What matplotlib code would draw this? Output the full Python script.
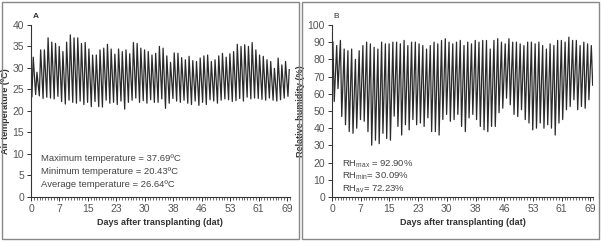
import numpy as np
import matplotlib.pyplot as plt
from matplotlib.patches import Rectangle

# daily extremes (one value per day, day 0..69)
temp_max = [32.5, 29.0, 34.2, 34.2, 37.0, 36.0, 35.7, 35.0, 33.8, 36.0,
            37.69, 37.0, 37.0, 35.7, 35.9, 34.4, 33.0, 33.0, 34.2, 34.6,
            35.5, 34.4, 33.2, 34.4, 33.8, 34.2, 33.3, 35.9, 35.7, 34.6,
            34.2, 33.8, 33.0, 33.4, 35.0, 34.6, 32.8, 31.3, 33.5, 33.4,
            32.4, 31.9, 32.7, 31.7, 31.5, 32.3, 32.8, 33.0, 31.5, 31.9,
            32.8, 33.4, 32.5, 33.3, 33.8, 35.5, 35.0, 35.4, 35.0, 35.9,
            34.2, 33.0, 32.7, 31.9, 31.5, 29.9, 32.3, 30.7, 31.5, 29.6]
temp_min = [23.3, 23.8, 23.5, 22.9, 23.2, 23.0, 22.8, 23.4, 22.2, 21.6,
            22.5, 22.0, 21.8, 22.3, 21.5, 22.0, 21.0, 22.2, 21.0, 20.9,
            22.5, 21.8, 22.0, 21.5, 22.3, 20.43, 22.0, 22.5, 23.0, 22.0,
            22.4, 21.8, 22.6, 22.0, 22.0, 22.8, 20.6, 21.8, 22.9, 22.3,
            22.0, 22.5, 21.8, 21.5, 22.3, 21.3, 22.0, 21.5, 22.6, 22.3,
            21.8, 22.5, 22.8, 22.6, 22.2, 22.4, 22.9, 22.3, 23.2, 22.8,
            23.0, 22.9, 22.7, 22.5, 23.0, 22.5, 22.3, 22.6, 23.0, 23.4]
rh_max = [90, 88, 91, 86, 85, 86, 80, 85, 88, 90,
          89, 87, 86, 90, 89, 89, 90, 90, 89, 91,
          88, 90, 90, 89, 88, 86, 88, 90, 89, 91,
          92, 90, 89, 90, 91, 88, 90, 89, 91, 90,
          91, 91, 86, 91, 92, 90, 89, 92, 90, 90,
          89, 88, 90, 90, 89, 90, 88, 86, 89, 88,
          91, 91, 90, 92.9, 91, 91, 88, 90, 89, 88]
rh_min = [55.5, 63, 46.8, 42, 38, 37, 40, 45, 44, 38,
          30.09, 33, 31, 37, 34, 33, 47, 41, 36, 42,
          39, 45, 42, 43, 41, 46, 38, 38, 36, 45,
          48, 44, 45, 48, 41, 38, 46, 48, 45, 41,
          39, 38, 41, 41, 49, 51.6, 57.4, 53.6, 48, 46.8,
          50.7, 45, 43, 39, 40, 43, 40, 42, 40, 36,
          43, 45, 50.7, 52.6, 56.5, 50.7, 52.6, 51.6, 56.5, 65]

xtick_labels = ['0', '7', '15', '23', '30', '38', '46', '53', '61', '69']
temp_text = ['Maximum temperature = 37.69ºC',
             'Minimum temperature = 20.43ºC',
             'Average temperature = 26.64ºC']
rh_text = ['RH$_{max}$ = 92.90%', 'RH$_{min}$= 30.09%', 'RH$_{av}$= 72.23%']

plt.rcParams['font.family'] = ['Liberation Sans', 'DejaVu Sans']
plt.rcParams['mathtext.fontset'] = 'custom'
plt.rcParams['mathtext.rm'] = 'Liberation Sans'
plt.rcParams['mathtext.it'] = 'Liberation Sans'

days = np.arange(len(temp_max))


def zigzag(lo, lo_off, hi, hi_off):
    # interleave the daily low and high at their time of day
    t = np.column_stack([days + lo_off, days + hi_off]).ravel()
    v = np.column_stack([lo, hi]).ravel()
    order = np.argsort(t)
    return t[order], v[order]


fig = plt.figure(figsize=(6.02, 2.42), dpi=100)

# panel frames
for x0 in (0.003, 0.502):
    fig.patches.append(Rectangle((x0, 0.012), 0.493, 0.978, transform=fig.transFigure,
                                 fill=False, edgecolor='#888888', lw=1.0))

ax1 = fig.add_axes([0.0515, 0.186, 0.43, 0.711])
ax2 = fig.add_axes([0.5515, 0.186, 0.434, 0.711])

t, v = zigzag(temp_min, 0.25, temp_max, 0.6)
ax1.plot(t, v, color='#2a2a2a', lw=0.9)
t, v = zigzag(rh_max, 0.25, rh_min, 0.6)
ax2.plot(t, v, color='#2a2a2a', lw=0.9)

ax1.set_ylim(0, 40)
ax1.set_yticks(np.arange(0, 41, 5))
ax2.set_ylim(0, 100)
ax2.set_yticks(np.arange(0, 101, 10))

major = np.arange(10) * 69 / 9
for ax in (ax1, ax2):
    ax.set_xlim(0, 69.6)
    ax.set_xticks(major)
    ax.set_xticklabels(xtick_labels)
    ax.set_xticks(np.arange(0, 70, 69 / 90), minor=True)
    for s in ('top', 'right'):
        ax.spines[s].set_visible(False)
    ax.spines['left'].set_color('#333333')
    ax.spines['bottom'].set_color('#333333')
    ax.spines['left'].set_linewidth(0.8)
    ax.spines['bottom'].set_linewidth(0.8)
    ax.tick_params(labelsize=7.5, colors='#333333', labelcolor='#555555',
                   length=3, width=0.7, pad=2)
    ax.tick_params(which='minor', length=2, width=0.5, colors='#333333')
    ax.set_xlabel('Days after transplanting (dat)', fontsize=6.5, fontweight='bold',
                  color='#333333', labelpad=3)

ax1.set_ylabel('Air temperature (ºC)', fontsize=6.5, fontweight='bold', color='#333333', labelpad=2)
ax2.set_ylabel('Relative humidity (%)', fontsize=6.5, fontweight='bold', color='#333333', labelpad=2)

ax1.text(0.005, 1.04, 'A', transform=ax1.transAxes, fontsize=6, fontweight='bold', color='#333333')
ax2.text(0.005, 1.04, 'B', transform=ax2.transAxes, fontsize=6, color='#333333')

for i, s in enumerate(temp_text):
    ax1.text(0.04, 0.21 - i * 0.075, s, transform=ax1.transAxes, fontsize=6.8, color='#444444')
for i, s in enumerate(rh_text):
    ax2.text(0.04, 0.18 - i * 0.075, s, transform=ax2.transAxes, fontsize=6.8, color='#444444')

fig.savefig('out.png', dpi=100)
